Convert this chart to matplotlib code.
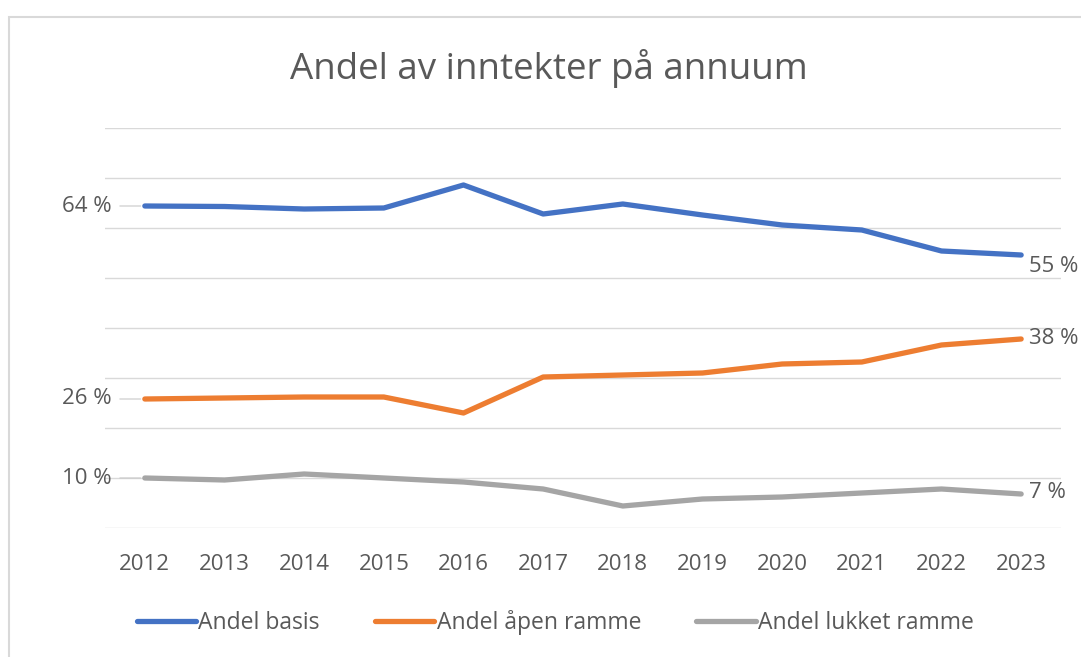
import matplotlib.pyplot as plt
from matplotlib.patches import Rectangle

years = ['2012', '2013', '2014', '2015', '2016', '2017',
         '2018', '2019', '2020', '2021', '2022', '2023']
andel_basis = [64.4, 64.3, 63.8, 64.0, 68.6, 62.8, 64.8, 62.6, 60.6, 59.6, 55.4, 54.6]
andel_apen = [25.8, 26.0, 26.2, 26.2, 23.0, 30.2, 30.6, 31.0, 32.8, 33.2, 36.6, 37.8]
andel_lukket = [10.0, 9.6, 10.8, 10.0, 9.2, 7.8, 4.4, 5.8, 6.2, 7.0, 7.8, 6.8]

plt.rcParams['font.family'] = ['Open Sans', 'DejaVu Sans']
txt = '#595959'

fig = plt.figure(figsize=(10.81, 6.57), dpi=100)
# outer chart frame (screenshot border)
fig.patches.append(Rectangle((9 / 1081, -0.1), 1.2, (657 - 17) / 657 + 0.1,
                             transform=fig.transFigure, fill=False,
                             edgecolor='#D9D9D9', lw=1.5))

ax = fig.add_axes([105 / 1081, (657 - 528) / 657, 956 / 1081, 400 / 657])
x = list(range(len(years)))

# values, colour, name, vertical offset of end label (points)
series = [
    (andel_basis, '#4472C4', 'Andel basis', -8),
    (andel_apen, '#ED7D31', 'Andel åpen ramme', 0),
    (andel_lukket, '#A5A5A5', 'Andel lukket ramme', 1),
]
for vals, col, name, dy in series:
    ax.plot(x, vals, color=col, lw=3.8, label=name, solid_capstyle='round')
    ax.annotate(f'{round(vals[0])} %', xy=(x[0], vals[0]), xytext=(-24, 0),
                textcoords='offset points', ha='right', va='center',
                fontsize=16, color=txt,
                arrowprops=dict(arrowstyle='-', color='#C8C8C8', lw=0.8,
                                shrinkA=4, shrinkB=3))
    ax.annotate(f'{round(vals[-1])} %', xy=(x[-1], vals[-1]), xytext=(6, dy),
                textcoords='offset points', ha='left', va='center',
                fontsize=16, color=txt, annotation_clip=False)

ax.set_xlim(-0.5, 11.5)
ax.set_ylim(0, 80)
ax.set_yticks(range(0, 81, 10))
ax.set_yticklabels([])
ax.set_xticks(x)
ax.set_xticklabels(years, fontsize=16, color=txt)
ax.tick_params(axis='both', length=0)
ax.tick_params(axis='x', pad=19)
ax.grid(axis='y', color='#D9D9D9', lw=1)
ax.set_axisbelow(True)
for s in ax.spines.values():
    s.set_visible(False)

fig.text(549 / 1081, (657 - 68) / 657, 'Andel av inntekter på annuum',
         ha='center', va='center', fontsize=26.5, color=txt)

ax.legend(loc='center', bbox_to_anchor=(0.471, -0.237), ncol=3, frameon=False,
          fontsize=16.5, handlelength=2.6, handletextpad=0.1, columnspacing=2.4,
          labelcolor=txt)

fig.savefig('out.png', dpi=100)
